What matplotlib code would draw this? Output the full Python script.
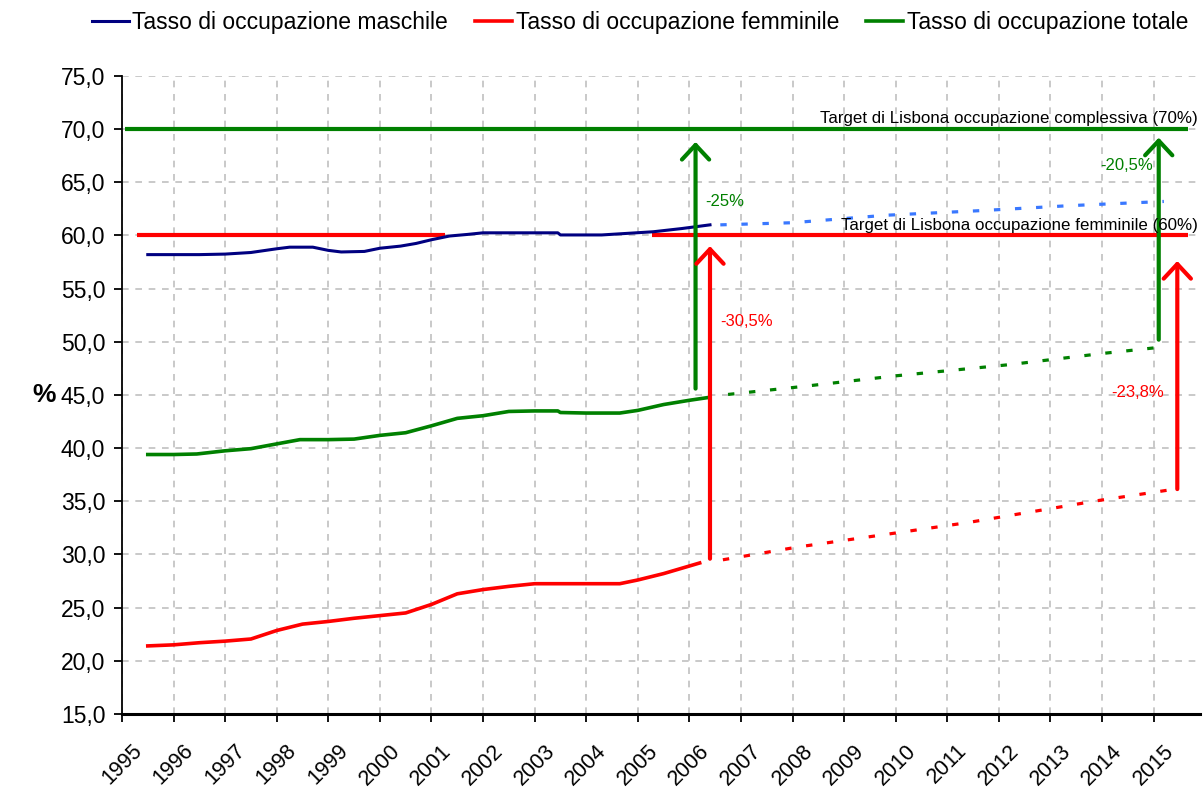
import matplotlib
matplotlib.use("Agg")
import matplotlib.pyplot as plt
from matplotlib.patches import FancyArrowPatch
from matplotlib.ticker import FuncFormatter, MultipleLocator

plt.rcParams['font.family'] = ['Liberation Sans', 'DejaVu Sans']

# ---------------- data ----------------
years_ticks = list(range(1995, 2016))

male_x = [1995.5, 1996.0, 1996.5, 1997.0, 1997.5, 1998.0, 1998.25, 1998.7, 1999.0, 1999.25,
          1999.7, 2000.0, 2000.4, 2000.7, 2001.0, 2001.35, 2001.7, 2002.0, 2002.5, 2003.0,
          2003.45, 2003.5, 2004.0, 2004.3, 2004.8, 2005.3, 2005.85, 2006.4]
male_y = [58.2, 58.2, 58.2, 58.25, 58.4, 58.75, 58.9, 58.9, 58.6, 58.45,
          58.5, 58.8, 59.0, 59.25, 59.6, 59.95, 60.1, 60.25, 60.25, 60.25,
          60.25, 60.05, 60.05, 60.05, 60.2, 60.35, 60.65, 61.0]

female_x = [1995.5, 1996.0, 1996.5, 1997.0, 1997.5, 1998.0, 1998.5, 1999.0, 1999.5, 2000.0,
            2000.5, 2001.0, 2001.5, 2002.0, 2002.5, 2003.0, 2003.5, 2004.0, 2004.65, 2005.0,
            2005.5, 2006.2]
female_y = [21.4, 21.5, 21.7, 21.85, 22.05, 22.85, 23.45, 23.7, 24.0, 24.25,
            24.5, 25.3, 26.3, 26.7, 27.0, 27.25, 27.25, 27.25, 27.25, 27.6,
            28.2, 29.2]

total_x = [1995.5, 1996.0, 1996.45, 1997.0, 1997.5, 1998.0, 1998.45, 1999.0, 1999.5, 2000.0,
           2000.5, 2001.0, 2001.5, 2002.0, 2002.5, 2003.0, 2003.45, 2003.5, 2004.0, 2004.65,
           2005.0, 2005.5, 2006.0, 2006.35]
total_y = [39.4, 39.4, 39.45, 39.75, 39.95, 40.4, 40.8, 40.8, 40.85, 41.2,
           41.45, 42.1, 42.8, 43.05, 43.45, 43.5, 43.5, 43.35, 43.3, 43.3,
           43.55, 44.1, 44.5, 44.75]

male_proj_x = [2006.6, 2008.0, 2009.8, 2011.7, 2013.35, 2015.2]
male_proj_y = [61.0, 61.2, 61.9, 62.35, 62.8, 63.2]
female_proj_x = [2006.65, 2008.1, 2009.9, 2011.4, 2012.8, 2013.9, 2015.35]
female_proj_y = [29.5, 30.7, 31.95, 33.0, 34.15, 35.05, 36.1]
total_proj_x = [2006.75, 2008.2, 2010.0, 2012.2, 2014.0, 2015.15]
total_proj_y = [45.05, 45.8, 46.8, 47.85, 48.9, 49.5]

target_total = 70.0
target_total_x = [1995.06, 2015.66]
target_female = 60.0
target_female_x1 = [1995.29, 2001.26]
target_female_x2 = [2005.27, 2015.66]

# gap arrows: (x, y_from, y_to, color)
arrows = [
    (2006.12, 45.6, 68.8, 'g'),
    (2015.1, 50.2, 69.2, 'g'),
    (2006.4, 29.6, 59.0, 'r'),
    (2015.46, 36.15, 57.6, 'r'),
]
# gap labels: (x, y, text, color, ha)
gap_labels = [
    (2006.3, 63.2, '-25%', 'g', 'left'),
    (2014.98, 66.6, '-20,5%', 'g', 'right'),
    (2006.6, 51.9, '-30,5%', 'r', 'left'),
    (2015.2, 45.2, '-23,8%', 'r', 'right'),
]

legend_labels = ['Tasso di occupazione maschile', 'Tasso di occupazione femminile',
                 'Tasso di occupazione totale']

# ---------------- style ----------------
NAVY = '#000080'
RED = '#ff0000'
GREEN = '#008000'
LBLUE = '#3a78ff'
colors = {'g': GREEN, 'r': RED}

fig = plt.figure(figsize=(12.03, 7.94), dpi=100)
ax = fig.add_axes([0.1014, 0.1008, 0.8961, 0.8035])

ax.set_xlim(1995, 2015.9)
ax.set_ylim(15, 75)

# grid
ax.set_xticks(years_ticks)
ax.yaxis.set_major_locator(MultipleLocator(5))
ax.grid(True, color='#c0c0c0', linestyle=(0, (4, 4)), linewidth=1.2)
ax.set_axisbelow(True)

for s in ['top', 'right']:
    ax.spines[s].set_visible(False)
ax.spines['left'].set_linewidth(1.3)
ax.spines['bottom'].set_linewidth(2.2)

ax.yaxis.set_major_formatter(FuncFormatter(lambda v, p: f'{v:.1f}'.replace('.', ',')))
ax.tick_params(axis='y', direction='out', length=6, width=1.3, labelsize=16.5, pad=6,
               colors='black')
ax.tick_params(axis='x', direction='out', length=6, width=1.3, labelsize=15.5, pad=13)
for lab in ax.get_xticklabels():
    lab.set_rotation(45)
    lab.set_ha('center')
    lab.set_va('top')

ax.set_ylabel('%', fontsize=19, fontweight='bold', rotation=0, labelpad=12, va='center')

# targets
ax.plot(target_total_x, [target_total] * 2, color=GREEN, lw=3.0, solid_capstyle='butt', zorder=3)
ax.plot(target_female_x1, [target_female] * 2, color=RED, lw=3.0, solid_capstyle='butt', zorder=3)
ax.plot(target_female_x2, [target_female] * 2, color=RED, lw=3.0, solid_capstyle='butt', zorder=3)

# series
l1, = ax.plot(male_x, male_y, color=NAVY, lw=2.2, zorder=4)
l2, = ax.plot(female_x, female_y, color=RED, lw=2.6, zorder=4)
l3, = ax.plot(total_x, total_y, color=GREEN, lw=2.6, zorder=4)

dash = (0, (2.0, 4.6))
ax.plot(male_proj_x, male_proj_y, color=LBLUE, lw=2.3, linestyle=dash, dash_capstyle='butt', zorder=4)
ax.plot(female_proj_x, female_proj_y, color=RED, lw=2.3, linestyle=dash, dash_capstyle='butt', zorder=4)
ax.plot(total_proj_x, total_proj_y, color=GREEN, lw=2.3, linestyle=dash, dash_capstyle='butt', zorder=4)

# arrows
for x, y0, y1, c in arrows:
    arr = FancyArrowPatch((x, y0), (x, y1), arrowstyle='->,head_length=0.75,head_width=0.7',
                          mutation_scale=14, color=colors[c], lw=3.0,
                          shrinkA=0, shrinkB=0, zorder=5)
    ax.add_patch(arr)

for x, y, t, c, ha in gap_labels:
    ax.text(x, y, t, color=colors[c], fontsize=12, ha=ha, va='center', zorder=6)

ax.text(2015.85, target_total + 0.25, 'Target di Lisbona occupazione complessiva (70%)',
        fontsize=12.2, ha='right', va='bottom', color='black', zorder=6)
ax.text(2015.85, target_female + 0.25, 'Target di Lisbona occupazione femminile (60%)',
        fontsize=12.2, ha='right', va='bottom', color='black', zorder=6)

# legend
fig.legend([l1, l2, l3], legend_labels, loc='center', bbox_to_anchor=(0.532, 0.972),
           ncol=3, frameon=False, fontsize=16.5, handlelength=1.6, handletextpad=0.15,
           columnspacing=1.2, borderaxespad=0)

fig.savefig('out.png', dpi=100, facecolor='white')
